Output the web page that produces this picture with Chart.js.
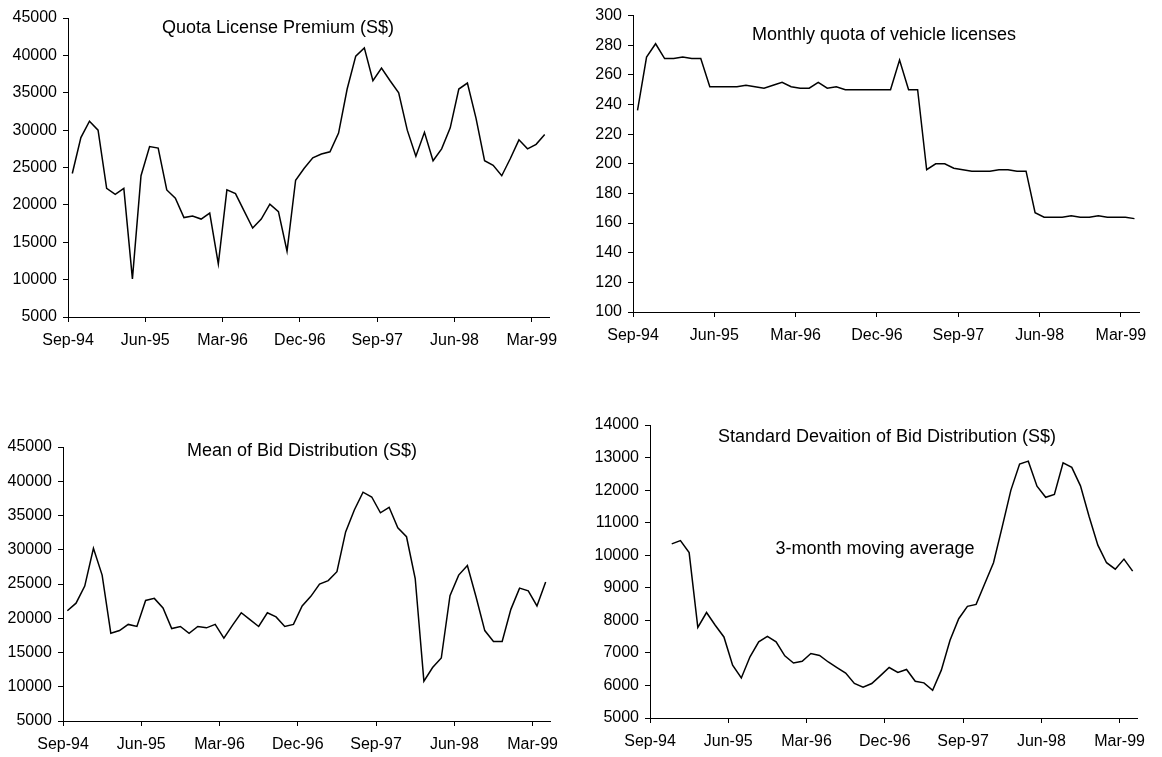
<!DOCTYPE html>
<html>
<head>
<meta charset="utf-8">
<script src="https://cdn.jsdelivr.net/npm/chart.js@4.4.1/dist/chart.umd.min.js"></script>
<style>
  body { margin: 0; background: #fff; width: 1162px; height: 757px; position: relative; overflow: hidden; }
  .box { position: absolute; }
  .note {
    position: absolute; white-space: nowrap; line-height: 1;
    font-family: "Liberation Sans", Arial, sans-serif; font-size: 18px; color: #000;
    transform: translate(-50%, -50%);
  }
</style>
</head>
<body>
<div class="box" style="left:0;top:0;width:575px;height:360px"><canvas id="c1"></canvas></div>
<div class="box" style="left:575px;top:0;width:587px;height:360px"><canvas id="c2"></canvas></div>
<div class="box" style="left:0;top:380px;width:575px;height:377px"><canvas id="c3"></canvas></div>
<div class="box" style="left:575px;top:380px;width:587px;height:377px"><canvas id="c4"></canvas></div>

<div class="note" style="left:278px;top:27px">Quota License Premium (S$)</div>
<div class="note" style="left:884px;top:34px">Monthly quota of vehicle licenses</div>
<div class="note" style="left:302px;top:450px">Mean of Bid Distribution (S$)</div>
<div class="note" style="left:887px;top:436px">Standard Devaition of Bid Distribution (S$)</div>
<div class="note" style="left:875px;top:548px">3-month moving average</div>

<script>
// monthly series, Sep-94 .. Apr-99 (56 months)
const monthCount = 56;
const tickEvery = 9;
const tickLabels = ['Sep-94', 'Jun-95', 'Mar-96', 'Dec-96', 'Sep-97', 'Jun-98', 'Mar-99'];

const premium = [24200, 29000, 31200, 30000, 22200, 21400, 22200, 10100, 23900, 27800,
  27600, 22000, 20900, 18300, 18500, 18100, 18900, 12100, 22000, 21500,
  19200, 16900, 18100, 20100, 19100, 13800, 23300, 24900, 26300, 26800,
  27100, 29600, 35500, 39900, 41000, 36600, 38300, 36600, 35000, 30000,
  26500, 29700, 25900, 27500, 30300, 35500, 36300, 31600, 25900, 25300,
  23900, 26200, 28700, 27500, 28100, 29400];

const quota = [236, 272, 281, 271, 271, 272, 271, 271, 252, 252,
  252, 252, 253, 252, 251, 253, 255, 252, 251, 251,
  255, 251, 252, 250, 250, 250, 250, 250, 250, 270,
  250, 250, 196, 200, 200, 197, 196, 195, 195, 195,
  196, 196, 195, 195, 167, 164, 164, 164, 165, 164,
  164, 165, 164, 164, 164, 163];

const bidMean = [21100, 22200, 24700, 30200, 26300, 17800, 18200, 19100, 18800, 22600,
  22900, 21500, 18500, 18800, 17800, 18800, 18600, 19100, 17100, 19000,
  20800, 19800, 18800, 20800, 20200, 18800, 19100, 21800, 23200, 25000,
  25500, 26800, 32600, 35800, 38400, 37700, 35400, 36200, 33200, 31900,
  25800, 10800, 12800, 14200, 23300, 26300, 27700, 23100, 18200, 16600,
  16600, 21300, 24400, 24000, 21800, 25300];

const bidStd = [null, null, 10350, 10450, 10080, 7780, 8240, 7850, 7490, 6620,
  6230, 6880, 7340, 7510, 7340, 6910, 6690, 6740, 6980, 6920,
  6720, 6550, 6380, 6060, 5950, 6060, 6300, 6550, 6400, 6490,
  6130, 6080, 5850, 6470, 7390, 8050, 8430, 8490, 9130, 9770,
  10870, 12000, 12800, 12890, 12120, 11780, 11870, 12840, 12700, 12130,
  11180, 10310, 9770, 9570, 9880, 9510];

const FONT = { family: '"Liberation Sans", Arial, sans-serif', size: 16 };

// each value sits in the middle of its month
function toPoints(values) {
  return values.map((v, i) => ({ x: i + 0.5, y: v }));
}

function makeChart(id, values, yMin, yMax, yStep, yWidth, pad) {
  return new Chart(document.getElementById(id), {
    type: 'line',
    data: {
      datasets: [{
        data: toPoints(values),
        borderColor: '#000',
        borderWidth: 1.5,
        pointRadius: 0,
        tension: 0,
        spanGaps: false
      }]
    },
    options: {
      responsive: true,
      maintainAspectRatio: false,
      animation: false,
      layout: { padding: pad },
      plugins: { legend: { display: false }, tooltip: { enabled: false } },
      scales: {
        x: {
          type: 'linear',
          min: 0,
          max: monthCount,
          afterBuildTicks: s => {
            s.ticks = tickLabels.map((_, k) => ({ value: k * tickEvery }));
          },
          afterFit: s => { s.height = 36; },
          ticks: {
            color: '#000', font: FONT, padding: 9, maxRotation: 0,
            autoSkip: false,
            callback: v => tickLabels[Math.round(v / tickEvery)]
          },
          grid: { drawOnChartArea: false, drawTicks: true, tickLength: 5, color: '#000' },
          border: { color: '#000', width: 1 }
        },
        y: {
          min: yMin,
          max: yMax,
          afterFit: s => { s.width = yWidth; },
          ticks: { stepSize: yStep, color: '#000', font: FONT, padding: 6, callback: v => String(v) },
          grid: { drawOnChartArea: false, drawTicks: true, tickLength: 5, color: '#000' },
          border: { color: '#000', width: 1 }
        }
      }
    }
  });
}

makeChart('c1', premium, 5000, 45000, 5000, 68, { top: 18, right: 26, bottom: 7, left: 0 });
makeChart('c2', quota, 100, 300, 20, 58, { top: 15, right: 23, bottom: 12, left: 0 });
makeChart('c3', bidMean, 5000, 45000, 5000, 63, { top: 67, right: 25, bottom: 0, left: 0 });
makeChart('c4', bidStd, 5000, 14000, 1000, 75, { top: 45, right: 25, bottom: 3, left: 0 });
</script>
</body>
</html>
